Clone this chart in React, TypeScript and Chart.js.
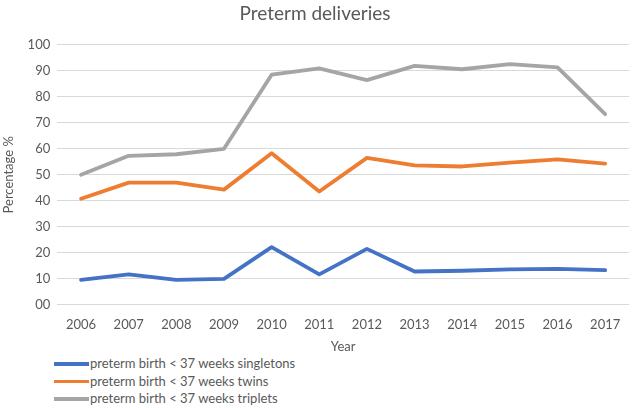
import React, { useEffect, useRef } from 'react';
import { Chart, registerables } from 'chart.js';

Chart.register(...registerables);

const YEARS = ['2006', '2007', '2008', '2009', '2010', '2011', '2012', '2013', '2014', '2015', '2016', '2017'];
const SINGLETONS = [9.6, 11.7, 9.6, 10.0, 22.2, 11.7, 21.5, 12.8, 13.1, 13.6, 13.8, 13.3];
const TWINS = [40.8, 47.0, 47.0, 44.3, 58.3, 43.6, 56.5, 53.6, 53.2, 54.7, 55.9, 54.3];
const TRIPLETS = [50.0, 57.3, 57.9, 60.0, 88.5, 90.9, 86.4, 91.9, 90.6, 92.6, 91.3, 73.3];

const SERIES = [
  { label: 'preterm birth < 37 weeks singletons', data: SINGLETONS, color: '#4472C4' },
  { label: 'preterm birth < 37 weeks twins', data: TWINS, color: '#ED7D31' },
  { label: 'preterm birth < 37 weeks triplets', data: TRIPLETS, color: '#A5A5A5' },
];

const FONT = 'Lato, "Open Sans", sans-serif';
const TEXT = '#595959';

const App: React.FC = () => {
  const canvasRef = useRef<HTMLCanvasElement>(null);
  const chartRef = useRef<Chart | null>(null);

  useEffect(() => {
    if (!canvasRef.current) return;
    chartRef.current?.destroy();

    chartRef.current = new Chart(canvasRef.current, {
      type: 'line',
      data: {
        labels: YEARS,
        datasets: SERIES.map(s => ({
          label: s.label,
          data: s.data,
          borderColor: s.color,
          backgroundColor: s.color,
          borderWidth: 3.8,
          pointRadius: 0,
          tension: 0,
          borderCapStyle: 'round' as const,
          borderJoinStyle: 'round' as const,
        })),
      },
      options: {
        animation: false,
        responsive: false,
        maintainAspectRatio: false,
        layout: { padding: { left: 1, right: 4, top: 0, bottom: 0 } },
        plugins: {
          legend: { display: false },
          tooltip: { enabled: false },
          title: {
            display: true,
            text: 'Preterm deliveries',
            color: TEXT,
            font: { family: FONT, size: 19, weight: 'normal' },
            padding: { top: 2, bottom: 20 },
          },
        },
        scales: {
          x: {
            offset: true,
            grid: { display: false },
            border: { display: false },
            ticks: { color: TEXT, font: { family: FONT, size: 13 }, padding: 4, maxRotation: 0 },
            title: {
              display: true,
              text: 'Year',
              color: TEXT,
              font: { family: FONT, size: 13 },
              padding: { top: 3, bottom: 0 },
            },
          },
          y: {
            min: 0,
            max: 100,
            grid: { color: '#d9d9d9', lineWidth: 1, drawTicks: false },
            border: { display: false },
            ticks: {
              stepSize: 10,
              color: TEXT,
              font: { family: FONT, size: 13 },
              padding: 7,
              callback: v => (Number(v) === 0 ? '00' : String(v)),
            },
            title: {
              display: true,
              text: 'Percentage %',
              color: TEXT,
              font: { family: FONT, size: 13 },
              padding: { top: 0, bottom: 4 },
            },
          },
        },
      },
    });

    return () => { chartRef.current?.destroy(); chartRef.current = null; };
  }, []);

  return (
    <div style={{ position: 'fixed', left: 0, top: 0, width: 633, height: 408, background: '#fff', overflow: 'hidden' }}>
      <canvas ref={canvasRef} width={633} height={355} style={{ display: 'block' }} />
      <div style={{ position: 'absolute', left: 54, top: 355, fontFamily: FONT, fontSize: 13, color: TEXT }}>
        {SERIES.map(s => (
          <div key={s.label} style={{ display: 'flex', alignItems: 'center', height: 17.5, lineHeight: '17.5px' }}>
            <span style={{ display: 'inline-block', width: 35, height: 3.5, background: s.color, marginRight: 1 }} />
            <span>{s.label}</span>
          </div>
        ))}
      </div>
    </div>
  );
};

export default App;
